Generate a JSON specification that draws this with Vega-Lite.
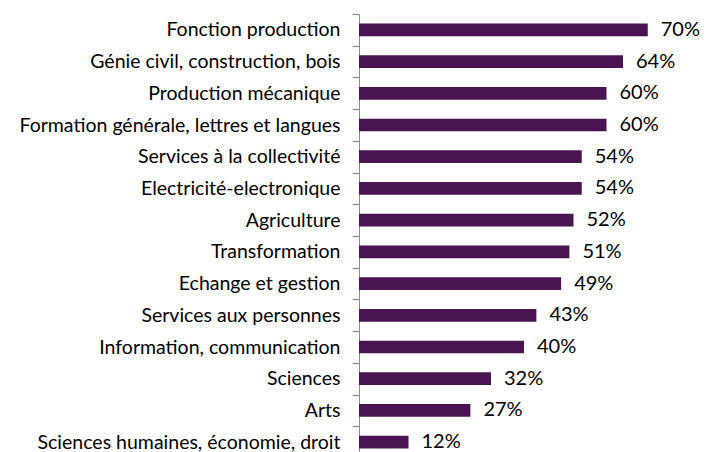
{
  "$schema": "https://vega.github.io/schema/vega-lite/v6.json",
  "autosize": "none",
  "padding": {"left": 359, "top": 14, "right": 17, "bottom": 0},
  "width": 330,
  "height": 444,
  "background": "white",
  "config": {"view": {"stroke": null}, "font": "Lato"},
  "data": {"values": [
    {"cat": "Fonction production", "v": 0.70},
    {"cat": "Génie civil, construction, bois", "v": 0.64},
    {"cat": "Production mécanique", "v": 0.60},
    {"cat": "Formation générale, lettres et langues", "v": 0.60},
    {"cat": "Services à la collectivité", "v": 0.54},
    {"cat": "Electricité-electronique", "v": 0.54},
    {"cat": "Agriculture", "v": 0.52},
    {"cat": "Transformation", "v": 0.51},
    {"cat": "Echange et gestion", "v": 0.49},
    {"cat": "Services aux personnes", "v": 0.43},
    {"cat": "Information, communication", "v": 0.40},
    {"cat": "Sciences", "v": 0.32},
    {"cat": "Arts", "v": 0.27},
    {"cat": "Sciences humaines, économie, droit", "v": 0.12}
  ]},
  "encoding": {
    "y": {"field": "cat", "type": "nominal", "sort": null,
      "scale": {"paddingInner": 0.6, "paddingOuter": 0.3},
      "axis": {"title": null, "domainColor": "#8c8c8c", "ticks": true, "tickColor": "#8c8c8c", "tickSize": 7, "tickWidth": 1.2, "tickOffset": -15.86, "labelOffset": 15.86,
        "labelFontSize": 19.5, "labelColor": "#000000", "labelPadding": 12, "labelLimit": 400, "labelFont": "Lato"}},
    "x": {"field": "v", "type": "quantitative", "scale": {"domain": [0, 0.8]}, "axis": null}
  },
  "layer": [
    {"mark": {"type": "bar", "color": "#4A1452"}},
    {"mark": {"type": "text", "align": "left", "dx": 13, "fontSize": 20, "color": "#000000", "font": "Lato"},
     "encoding": {"text": {"field": "v", "type": "quantitative", "format": ".0%"}}}
  ]
}
